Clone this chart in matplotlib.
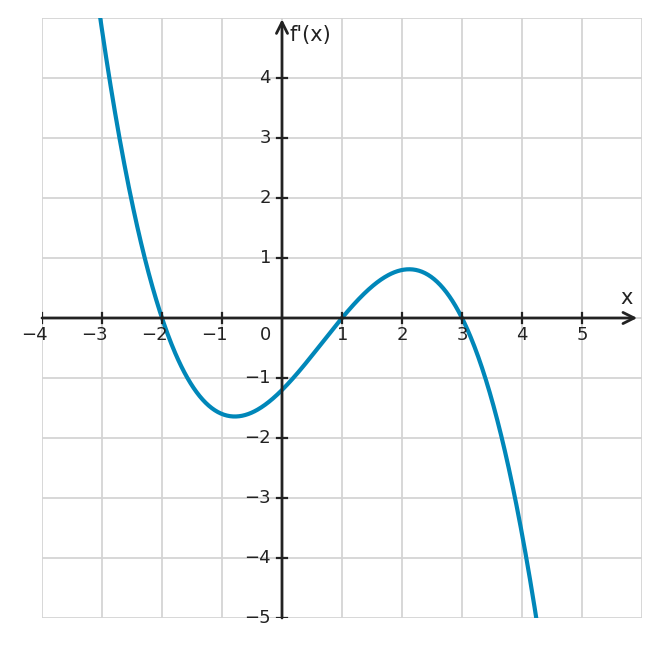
import numpy as np
import matplotlib
matplotlib.use('Agg')
import matplotlib.pyplot as plt
from matplotlib.transforms import ScaledTranslation

# curve: zeros at -2, 1, 3 and f'(0) = -1.2
roots = [-2, 1, 3]
lead = -0.2
x_ticks = [-4, -3, -2, -1, 1, 2, 3, 4, 5]
y_ticks = [-5, -4, -3, -2, -1, 1, 2, 3, 4]

fig = plt.figure(figsize=(6.61, 6.48), dpi=100)
ax = fig.add_axes([42 / 661, 30 / 648, 600 / 661, 600 / 648])
ax.set_xlim(-4, 6)
ax.set_ylim(-5, 5)
for s in ax.spines.values():
    s.set_visible(False)
ax.set_xticks([])
ax.set_yticks([])

# grid
for gx in range(-4, 7):
    ax.axvline(gx, color='#d4d4d4', lw=1.3, zorder=0)
for gy in range(-5, 6):
    ax.axhline(gy, color='#d4d4d4', lw=1.3, zorder=0)

# curve
xs = np.linspace(-3.2, 4.4, 600)
ys = lead * np.polyval(np.poly(roots), xs)
ax.plot(xs, ys, color='#0087b9', lw=3, zorder=3, solid_capstyle='butt')

# axes with arrows
axc = '#222222'
ax.annotate('', xy=(5.92, 0), xytext=(-4, 0),
            arrowprops=dict(arrowstyle='->', color=axc, lw=2, mutation_scale=20,
                            shrinkA=0, shrinkB=0), zorder=4)
ax.annotate('', xy=(0, 4.98), xytext=(0, -5),
            arrowprops=dict(arrowstyle='->', color=axc, lw=2, mutation_scale=20,
                            shrinkA=0, shrinkB=0), zorder=4)

# ticks
th = 0.09
for tx in x_ticks:
    ax.plot([tx, tx], [-th, th], color=axc, lw=1.6, zorder=4)
    off = ScaledTranslation(6 / 100, -8 / 100, fig.dpi_scale_trans)
    ax.text(tx, 0, '\u2212' + str(-tx) if tx < 0 else str(tx), ha='right', va='top',
            fontsize=13, color=axc, transform=ax.transData + off)
for ty in y_ticks:
    ax.plot([-th, th], [ty, ty], color=axc, lw=1.6, zorder=4)
    off = ScaledTranslation(-11 / 100, 0, fig.dpi_scale_trans)
    ax.text(0, ty, '\u2212' + str(-ty) if ty < 0 else str(ty), ha='right', va='center',
            fontsize=13, color=axc, transform=ax.transData + off)
off = ScaledTranslation(-11 / 100, -8 / 100, fig.dpi_scale_trans)
ax.text(0, 0, '0', ha='right', va='top', fontsize=13, color=axc,
        transform=ax.transData + off)

ax.text(5.75, 0.33, 'x', fontsize=15, color=axc, ha='center', va='center')
ax.text(0.13, 4.72, "f'(x)", fontsize=15, color=axc, ha='left', va='center')

fig.savefig('out.png', dpi=100)
